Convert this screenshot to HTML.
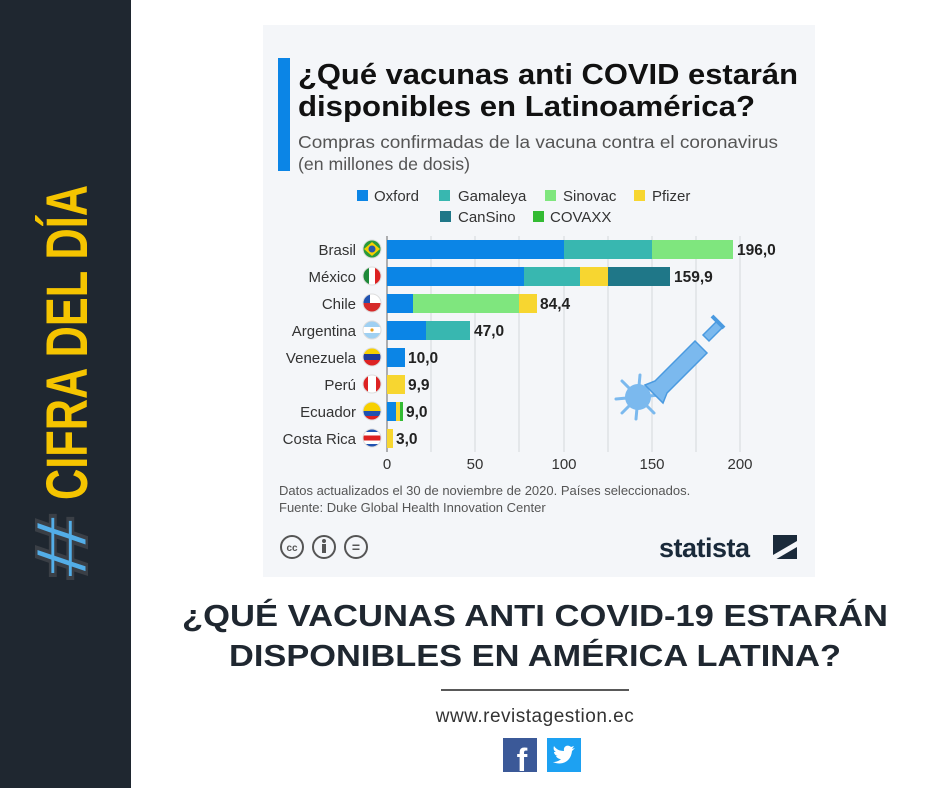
<!DOCTYPE html>
<html><head><meta charset="utf-8"><style>
body{margin:0;width:940px;height:788px;background:#fff;overflow:hidden;position:relative;font-family:"Liberation Sans",sans-serif}
</style></head><body>
<svg width="940" height="788" style="position:absolute;left:0;top:0" font-family="Liberation Sans, sans-serif">
<defs>
<clipPath id="c1"><circle cx="372" cy="249" r="9"/></clipPath>
<clipPath id="c2"><circle cx="372" cy="276" r="9"/></clipPath>
<clipPath id="c3"><circle cx="372" cy="303" r="9"/></clipPath>
<clipPath id="c4"><circle cx="372" cy="330" r="9"/></clipPath>
<clipPath id="c5"><circle cx="372" cy="357" r="9"/></clipPath>
<clipPath id="c6"><circle cx="372" cy="384" r="9"/></clipPath>
<clipPath id="c7"><circle cx="372" cy="411" r="9"/></clipPath>
<clipPath id="c8"><circle cx="372" cy="438" r="9"/></clipPath>
</defs>
<rect x="0" y="0" width="131" height="788" fill="#1f2730"/>
<g transform="translate(87,580) rotate(-90)">
<text x="0" y="0" font-size="74" fill="#53aee8" stroke="#3a3f46" stroke-width="2.5" font-weight="bold" textLength="66" lengthAdjust="spacingAndGlyphs">#</text>
<text x="80" y="0" font-size="58" fill="#f5c400" font-weight="bold" textLength="315" lengthAdjust="spacingAndGlyphs">CIFRA DEL DÍA</text>
</g>
<rect x="263" y="25" width="552" height="552" fill="#f4f6f9"/>
<rect x="278" y="58" width="12" height="113" fill="#0b85e6"/>
<text x="298" y="84" font-size="29" font-weight="bold" fill="#111" textLength="500" lengthAdjust="spacingAndGlyphs">¿Qué vacunas anti COVID estarán</text>
<text x="298" y="116" font-size="29" font-weight="bold" fill="#111" textLength="457" lengthAdjust="spacingAndGlyphs">disponibles en Latinoamérica?</text>
<text x="298" y="148" font-size="17.5" fill="#555" textLength="480" lengthAdjust="spacingAndGlyphs">Compras confirmadas de la vacuna contra el coronavirus</text>
<text x="298" y="170" font-size="17.5" fill="#555" textLength="172" lengthAdjust="spacingAndGlyphs">(en millones de dosis)</text>
<g font-size="15" fill="#333">
<rect x="357" y="190" width="11" height="11" fill="#0b85e6"/><text x="374" y="201">Oxford</text>
<rect x="439" y="190" width="11" height="11" fill="#38b7b0"/><text x="458" y="201">Gamaleya</text>
<rect x="545" y="190" width="11" height="11" fill="#7fe67e"/><text x="563" y="201">Sinovac</text>
<rect x="634" y="190" width="11" height="11" fill="#f7d630"/><text x="652" y="201">Pfizer</text>
<rect x="440" y="211" width="11" height="11" fill="#1f7788"/><text x="458" y="222">CanSino</text>
<rect x="533" y="211" width="11" height="11" fill="#33bb33"/><text x="550" y="222">COVAXX</text>
</g>
<g stroke="#d5d8dc" stroke-width="1">
<line x1="431" y1="236" x2="431" y2="452"/><line x1="475" y1="236" x2="475" y2="452"/><line x1="519" y1="236" x2="519" y2="452"/><line x1="564" y1="236" x2="564" y2="452"/><line x1="608" y1="236" x2="608" y2="452"/><line x1="652" y1="236" x2="652" y2="452"/><line x1="696" y1="236" x2="696" y2="452"/><line x1="740" y1="236" x2="740" y2="452"/>
</g>
<line x1="387" y1="236" x2="387" y2="452" stroke="#666"/>
<g>
<rect x="387" y="240" width="177" height="19" fill="#0b85e6"/><rect x="564" y="240" width="88" height="19" fill="#38b7b0"/><rect x="652" y="240" width="81" height="19" fill="#7fe67e"/>
<rect x="387" y="267" width="137" height="19" fill="#0b85e6"/><rect x="524" y="267" width="56" height="19" fill="#38b7b0"/><rect x="580" y="267" width="28" height="19" fill="#f7d630"/><rect x="608" y="267" width="62" height="19" fill="#1f7788"/>
<rect x="387" y="294" width="26" height="19" fill="#0b85e6"/><rect x="413" y="294" width="106" height="19" fill="#7fe67e"/><rect x="519" y="294" width="18" height="19" fill="#f7d630"/>
<rect x="387" y="321" width="39" height="19" fill="#0b85e6"/><rect x="426" y="321" width="44" height="19" fill="#38b7b0"/>
<rect x="387" y="348" width="18" height="19" fill="#0b85e6"/>
<rect x="387" y="375" width="18" height="19" fill="#f7d630"/>
<rect x="387" y="402" width="9" height="19" fill="#0b85e6"/><rect x="396" y="402" width="4" height="19" fill="#f7d630"/><rect x="400" y="402" width="3" height="19" fill="#33bb33"/>
<rect x="387" y="429" width="6" height="19" fill="#f7d630"/>
</g>
<g font-size="15.5" font-weight="bold" fill="#222">
<text x="737" y="255">196,0</text><text x="674" y="282">159,9</text><text x="540" y="309">84,4</text><text x="474" y="336">47,0</text><text x="408" y="363">10,0</text><text x="408" y="390">9,9</text><text x="406" y="417">9,0</text><text x="396" y="444">3,0</text>
</g>
<g font-size="15" fill="#333" text-anchor="end">
<text x="356" y="255">Brasil</text><text x="356" y="282">México</text><text x="356" y="309">Chile</text><text x="356" y="336">Argentina</text><text x="356" y="363">Venezuela</text><text x="356" y="390">Perú</text><text x="356" y="417">Ecuador</text><text x="356" y="444">Costa Rica</text>
</g>
<g>
<g clip-path="url(#c1)"><rect x="362" y="239" width="20" height="20" fill="#2a9a3a"/><path d="M372 242l8 7-8 7-8-7z" fill="#f7d000"/><circle cx="372" cy="249" r="3.5" fill="#2856a8"/></g>
<g clip-path="url(#c2)"><rect x="362" y="266" width="20" height="20" fill="#fff"/><rect x="362" y="266" width="7" height="20" fill="#1f8a3a"/><rect x="375" y="266" width="7" height="20" fill="#d22"/></g>
<g clip-path="url(#c3)"><rect x="362" y="293" width="20" height="20" fill="#d62a2a"/><rect x="362" y="293" width="20" height="10" fill="#fff"/><rect x="362" y="293" width="8" height="10" fill="#2052b0"/></g>
<g clip-path="url(#c4)"><rect x="362" y="320" width="20" height="20" fill="#9fd0f2"/><rect x="362" y="327" width="20" height="6" fill="#fff"/><circle cx="372" cy="330" r="1.6" fill="#e8a020"/></g>
<g clip-path="url(#c5)"><rect x="362" y="347" width="20" height="20" fill="#1f3b9a"/><rect x="362" y="347" width="20" height="7" fill="#f7d000"/><rect x="362" y="360" width="20" height="7" fill="#d22"/></g>
<g clip-path="url(#c6)"><rect x="362" y="374" width="20" height="20" fill="#fff"/><rect x="362" y="374" width="6" height="20" fill="#d22"/><rect x="376" y="374" width="6" height="20" fill="#d22"/></g>
<g clip-path="url(#c7)"><rect x="362" y="401" width="20" height="20" fill="#f7d000"/><rect x="362" y="411" width="20" height="5" fill="#2052b0"/><rect x="362" y="416" width="20" height="5" fill="#d22"/></g>
<g clip-path="url(#c8)"><rect x="362" y="428" width="20" height="20" fill="#2052b0"/><rect x="362" y="432" width="20" height="12" fill="#fff"/><rect x="362" y="435.5" width="20" height="5" fill="#d22"/></g>
<g fill="none" stroke="#ddd" stroke-width="1">
<circle cx="372" cy="249" r="9"/><circle cx="372" cy="276" r="9"/><circle cx="372" cy="303" r="9"/><circle cx="372" cy="330" r="9"/><circle cx="372" cy="357" r="9"/><circle cx="372" cy="384" r="9"/><circle cx="372" cy="411" r="9"/><circle cx="372" cy="438" r="9"/></g>
</g>
<g font-size="15" fill="#333" text-anchor="middle">
<text x="387" y="469">0</text><text x="475" y="469">50</text><text x="564" y="469">100</text><text x="652" y="469">150</text><text x="740" y="469">200</text>
</g>
<g fill="#7bb9ee" stroke="#4a9ae0" stroke-width="1.5">
<g stroke="#7bb9ee" stroke-width="3" stroke-linecap="round">
<line x1="638" y1="397" x2="622" y2="381"/><line x1="638" y1="397" x2="654" y2="413"/><line x1="638" y1="397" x2="616" y2="399"/><line x1="638" y1="397" x2="660" y2="395"/><line x1="638" y1="397" x2="640" y2="375"/><line x1="638" y1="397" x2="636" y2="419"/><line x1="638" y1="397" x2="622" y2="413"/>
</g>
<circle cx="638" cy="397" r="13" stroke="none"/>
<path d="M645 385l10-4 40-40 12 12-40 40-4 10z"/>
<path d="M703 335l14-14 6 6-14 14z"/>
<path d="M712 316l12 12" stroke-width="4"/>
</g>
<text x="279" y="495" font-size="13" fill="#555">Datos actualizados el 30 de noviembre de 2020. Países seleccionados.</text>
<text x="279" y="512" font-size="13" fill="#555">Fuente: Duke Global Health Innovation Center</text>
<g fill="none" stroke="#555" stroke-width="2"><circle cx="292" cy="547" r="11"/><circle cx="324" cy="547" r="11"/><circle cx="356" cy="547" r="11"/></g>
<text x="292" y="551" font-size="10" font-weight="bold" fill="#555" text-anchor="middle">cc</text>
<text x="356" y="552" font-size="14" font-weight="bold" fill="#555" text-anchor="middle">=</text>
<circle cx="324" cy="541" r="2" fill="#555"/><rect x="322" y="544" width="4" height="9" fill="#555"/>
<text x="659" y="557" font-size="27" font-weight="bold" fill="#1a2a3a" letter-spacing="-0.5">statista</text>
<rect x="773" y="535" width="24" height="24" fill="#1a2a3a"/><path d="M773 555l24-14v6l-24 14z" fill="#f4f6f9"/>
<text x="535" y="626" font-size="31" font-weight="bold" fill="#1f2730" text-anchor="middle" textLength="706" lengthAdjust="spacingAndGlyphs">¿QUÉ VACUNAS ANTI COVID-19 ESTARÁN</text>
<text x="535" y="666" font-size="31" font-weight="bold" fill="#1f2730" text-anchor="middle" textLength="612" lengthAdjust="spacingAndGlyphs">DISPONIBLES EN AMÉRICA LATINA?</text>
<line x1="441" y1="690" x2="629" y2="690" stroke="#222" stroke-width="1.5"/>
<text x="535" y="722" font-size="19" fill="#333" text-anchor="middle" letter-spacing="0.5">www.revistagestion.ec</text>
<rect x="503" y="738" width="34" height="34" fill="#3b5998"/><text x="522" y="771" font-size="32" font-weight="bold" fill="#fff" text-anchor="middle">f</text>
<rect x="547" y="738" width="34" height="34" fill="#1da1f2"/><path d="M553 762c8 4 18 0 19-11l3-3-3 1 2-3-3 1c-3-3-8-1-7 4-5 0-8-2-10-5-1 3 0 5 2 6h-2c0 2 2 4 4 4h-2c1 2 3 3 5 3-2 2-5 3-8 3z" fill="#fff"/>
</svg>
</body></html>
